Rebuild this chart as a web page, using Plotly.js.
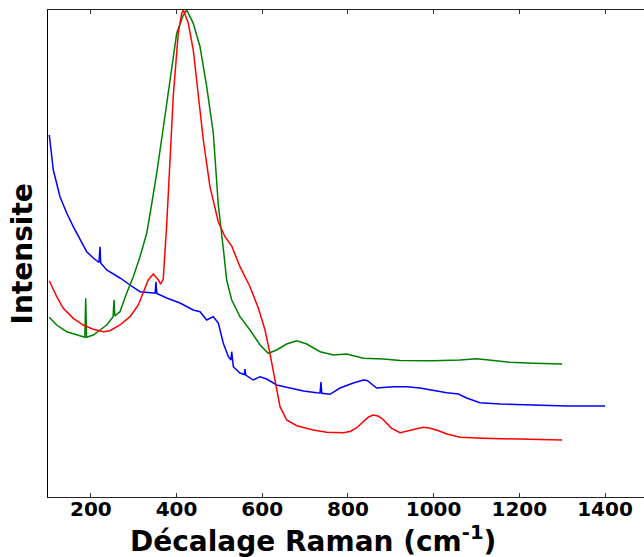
<!DOCTYPE html>
<html>
<head>
<meta charset="utf-8">
<script src="https://cdn.plot.ly/plotly-3.0.1.min.js"></script>
<style>html,body{margin:0;padding:0;background:#fff;overflow:hidden}#chart{width:644px;height:557px}</style>
</head>
<body>
<div id="chart"></div>
<script>
// Raman shift (cm-1) and intensity (arbitrary units)
const blueX = [103,112.4,128,143.6,159,174.7,190.3,205.7,219,221.4,223,237,268,291.4,314.7,345.8,350,352,354,377,408,439,454.8,470.4,485.8,497.5,509,521,527,528.8,530.5,532.5,548,558,559.8,561.5,579,594.9,610.5,633.8,664.9,696,727,735,737,739,758,781.6,812.6,825,836,845,851.6,867,906,937,968,999,1030.7,1057.8,1077,1108,1155,1233,1311,1400];
const blueY = [362,327,300.3,284,270.3,257,245.3,239,234.5,250.3,234,227,219,212,205.3,204,204,215.3,203.5,199,194,187,185.3,177,180.3,174,154,140.3,137,145.3,134,130.3,124,122.5,128,122,117,120.3,118,112,109,106,104.3,104,115,103.7,102.7,109,114,116,117,116.5,114,109,110.3,110.3,109,106.3,104.3,103,99,94.3,93,92,91,91];

const greenX = [103,120.3,143.6,167,186,188,190,205.7,221.4,237,252,254,256,268,283.7,299,314.7,330.4,342,353.7,369,384.8,400.4,415.8,423.8,439,454.8,470.4,485.8,497.5,502,505.5,510.8,517,528.8,548,571.5,594.9,614,633.8,657,680.5,704,735,766,797,836,882.7,921.7,1000,1061.7,1100.7,1147.4,1178.4,1232.8,1300];
const greenY = [179.7,172,165.3,162,159.7,198.7,159.7,162,167,172,180.3,197,181,185.3,204,220.3,240.3,263.7,293,323.7,369,417,463.7,482,487,473.7,450.3,410.3,364,292,277,263.7,242,217,197,180.3,167,152,143.7,147,153,156.3,153,145.3,142,143,138.7,138,136.5,136.3,137,138.3,136.3,134.7,133.7,133];

const redX = [103,120.3,135.7,159,182.4,205.7,229,244.7,268,291.4,310.8,322.5,334,345.8,357.5,363,369,377,384.8,392.5,404,412,415.8,427.5,439,450.8,462.5,478,497.5,513,528.8,548,571.5,591,606.5,618,630,641.5,657,680.5,719,750.6,789,805,820,836,848,859,870,879,890,902,921.7,945,960,976,990,1010,1030.7,1061.7,1116,1194,1300];
const redY = [216.3,200.3,188.7,178.7,172,167.7,165.3,166.3,172,180.3,192,203.7,217,223,217,213,218,272,342,402,463.7,483.7,487,473.7,447,403.7,357,310.3,275,260.3,251,230.3,210.3,188.7,167,143.7,117,90.3,77,71.3,67,64.7,64.3,65.5,69,75,80,82,81,78.7,74,68.7,64.3,66.5,68.5,69.7,69,66.5,63,59.7,58.7,58,57];

const xTicks = [200,400,600,800,1000,1200,1400];

const traces = [
  {x: blueX, y: blueY, mode: 'lines', line: {color: '#0000ff', width: 1.5}, hoverinfo: 'skip'},
  {x: greenX, y: greenY, mode: 'lines', line: {color: '#008000', width: 1.5}, hoverinfo: 'skip'},
  {x: redX, y: redY, mode: 'lines', line: {color: '#ff0000', width: 1.5}, hoverinfo: 'skip'}
];

const layout = {
  width: 644, height: 557,
  margin: {l: 48, r: 0, t: 10, b: 60},
  paper_bgcolor: '#fff', plot_bgcolor: '#fff',
  showlegend: false,
  xaxis: {
    range: [100, 1491], tickvals: xTicks, ticktext: xTicks.map(String),
    ticks: 'inside', ticklen: 4, tickcolor: '#333', tickwidth: 1,
    ticklabelstandoff: -6,
    showline: true, linecolor: '#222', linewidth: 1, mirror: 'ticks',
    showgrid: false, zeroline: false,
    tickfont: {family: 'DejaVu Sans', size: 20, weight: 'bold', color: '#000'}
  },
  yaxis: {
    range: [0, 487], showticklabels: false, ticks: '',
    showline: true, linecolor: '#000', linewidth: 1,
    showgrid: false, zeroline: false
  },
  annotations: [
    {text: 'Décalage Raman (cm<sup>-1</sup>)', xref: 'paper', yref: 'paper', x: 0.4446, y: -0.088,
     xanchor: 'center', yanchor: 'middle', showarrow: false,
     font: {family: 'DejaVu Sans', size: 28, weight: 'bold', color: '#000'}},
    {text: 'Intensite', xref: 'paper', yref: 'paper', x: -0.042, y: 0.5, textangle: -90,
     xanchor: 'center', yanchor: 'middle', showarrow: false,
     font: {family: 'DejaVu Sans', size: 28, weight: 'bold', color: '#000'}}
  ]
};

Plotly.newPlot('chart', traces, layout, {displayModeBar: false, staticPlot: true});
</script>
</body>
</html>
